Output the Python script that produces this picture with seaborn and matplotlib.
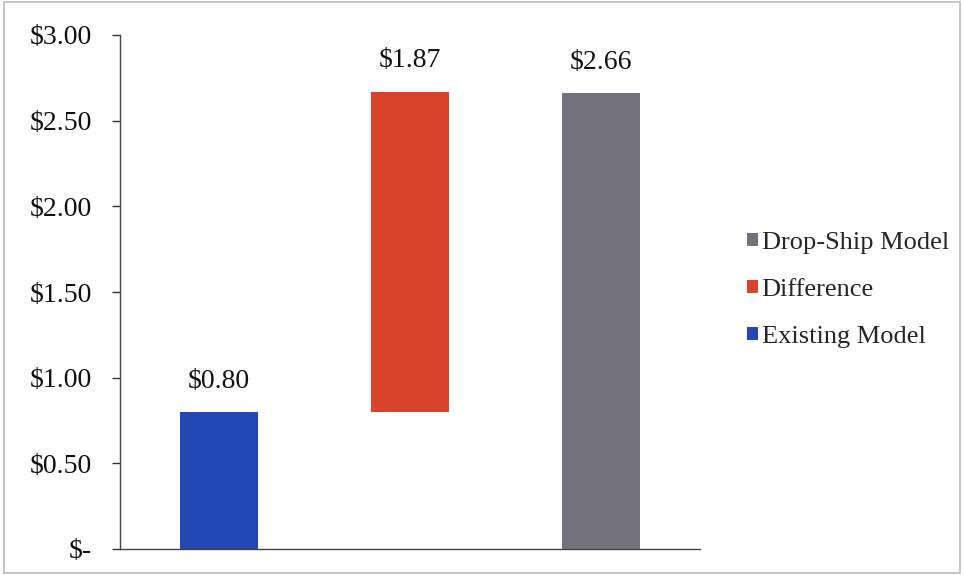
import matplotlib
matplotlib.use("Agg")
import matplotlib.pyplot as plt
from matplotlib.patches import Patch, Rectangle
import seaborn as sns
import pandas as pd

# ---- data ----
categories = ["Existing Model", "Difference", "Drop-Ship Model"]
bar_values = [0.80, 1.87, 2.66]
bar_bottoms = [0.0, 0.80, 0.0]
bar_labels = ["$0.80", "$1.87", "$2.66"]
y_ticks = [0.0, 0.5, 1.0, 1.5, 2.0, 2.5, 3.0]
y_tick_labels = ["$-", "$0.50", "$1.00", "$1.50", "$2.00", "$2.50", "$3.00"]
legend_order = ["Drop-Ship Model", "Difference", "Existing Model"]

colors = {"Existing Model": "#2447B6", "Difference": "#D9432A", "Drop-Ship Model": "#73727C"}

sns.set_theme(style="white")
plt.rcParams["font.family"] = ["Liberation Serif", "DejaVu Serif"]

df = pd.DataFrame({"category": categories, "value": bar_values,
                   "bottom": bar_bottoms, "label": bar_labels})

fig = plt.figure(figsize=(9.64, 5.75), dpi=100)
ax = fig.add_axes([120 / 964, 26 / 575, 580 / 964, 514 / 575])

for _, row in df.iterrows():
    sub = df[df["category"] == row["category"]]
    sns.barplot(data=sub, x="category", y="value", order=categories,
                color=colors[row["category"]], bottom=row["bottom"],
                width=0.41, saturation=1, ax=ax, linewidth=0)

for i, row in df.iterrows():
    top = row["bottom"] + row["value"]
    ax.annotate(row["label"], xy=(i, top), xytext=(0, 22), textcoords="offset points",
                ha="center", va="center", fontsize=20, color="#111111")

ax.set_xlim(-0.52, 2.52)
ax.set_ylim(0, 3.0)
ax.set_yticks(y_ticks)
ax.set_yticklabels(y_tick_labels)
ax.set_xticks([])
ax.set_xlabel("")
ax.set_ylabel("")
ax.tick_params(axis="y", which="major", left=True, length=6, width=1, color="#333333",
               pad=14, labelsize=20, labelcolor="#111111", direction="out")
for s in ["top", "right"]:
    ax.spines[s].set_visible(False)
for s in ["left", "bottom"]:
    ax.spines[s].set_visible(True)
    ax.spines[s].set_color("#444444")
    ax.spines[s].set_linewidth(1.0)

handles = [Patch(facecolor=colors[c], edgecolor="none", label=c) for c in legend_order]
fig.legend(handles=handles, loc="center left", bbox_to_anchor=(747 / 964, 1 - 290 / 575),
           frameon=False, fontsize=19, handlelength=0.4, handleheight=0.4,
           handletextpad=0.15, labelspacing=0.95, borderaxespad=0, borderpad=0)

fig.patches.append(Rectangle((0.004, 0.004), 0.992, 0.992, transform=fig.transFigure,
                             fill=False, edgecolor="#BBBBBB", linewidth=1.2))

fig.savefig("out.png", dpi=100)
